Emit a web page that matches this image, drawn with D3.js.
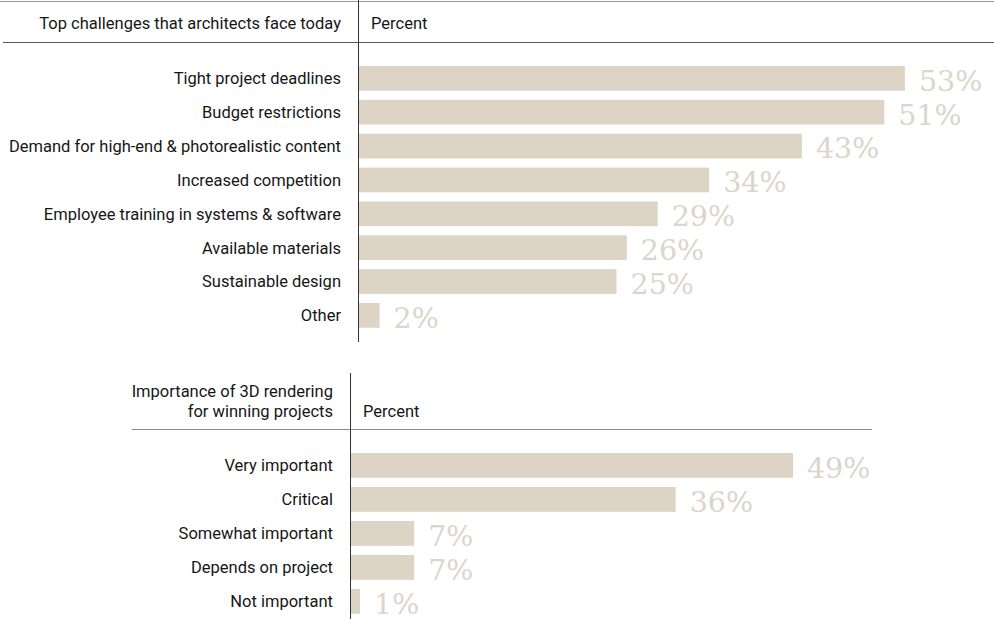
<!DOCTYPE html>
<html>
<head>
<meta charset="utf-8">
<script src="https://cdn.jsdelivr.net/npm/d3@7"></script>
<style>
  html, body { margin: 0; padding: 0; background: #fff; }
  svg { display: block; }
  .cat { font-family: Roboto, "Noto Sans", sans-serif; font-size: 16.5px; fill: #161616; }
  .head { font-family: Roboto, "Noto Sans", sans-serif; font-size: 16.5px; fill: #161616; }
  .val { font-family: "Roboto Slab", "DejaVu Serif", serif; font-size: 28.5px; fill: #dbd5cb; }
</style>
</head>
<body>
<svg id="chart" width="994" height="619"></svg>
<script>
// Survey results: top challenges for architects
const challengeCategories = [
  "Tight project deadlines",
  "Budget restrictions",
  "Demand for high-end & photorealistic content",
  "Increased competition",
  "Employee training in systems & software",
  "Available materials",
  "Sustainable design",
  "Other"
];
const challengeValues = [53, 51, 43, 34, 29, 26, 25, 2];

// Survey results: importance of 3D rendering
const renderingCategories = [
  "Very important",
  "Critical",
  "Somewhat important",
  "Depends on project",
  "Not important"
];
const renderingValues = [49, 36, 7, 7, 1];

const headerTop = ["Top challenges that architects face today"];
const headerBottom = ["Importance of 3D rendering", "for winning projects"];
const valueHeader = "Percent";

const barColor = "#ddd4c6";
const svg = d3.select("#chart");

function panel(cfg) {
  const g = svg.append("g");
  const n = cfg.categories.length;
  const pad = 0.27;
  const x = d3.scaleLinear().domain([0, 100]).range([cfg.x0, cfg.x0 + cfg.pxPer100]);
  const y = d3.scaleBand()
    .domain(cfg.categories)
    .range([cfg.y0, cfg.y0 + cfg.step * (n - pad)])
    .paddingInner(pad)
    .paddingOuter(0);

  const rows = cfg.categories.map((c, i) => ({ c, v: cfg.values[i] }));

  g.selectAll("rect.bar").data(rows).join("rect")
    .attr("class", "bar")
    .attr("x", x(0))
    .attr("y", d => y(d.c))
    .attr("width", d => x(d.v) - x(0))
    .attr("height", y.bandwidth())
    .attr("fill", barColor);

  g.selectAll("text.cat").data(rows).join("text")
    .attr("class", "cat")
    .attr("x", cfg.labelX)
    .attr("y", d => y(d.c) + y.bandwidth() / 2)
    .attr("dy", "0.36em")
    .attr("text-anchor", "end")
    .text(d => d.c);

  g.selectAll("text.val").data(rows).join("text")
    .attr("class", "val")
    .attr("x", d => x(d.v) + 14)
    .attr("y", d => y(d.c) + y.bandwidth())
    .text(d => d.v + "%");

  return { x, y };
}

// ---- upper panel frame ----
svg.append("line").attr("x1", 0).attr("x2", 994).attr("y1", 1.5).attr("y2", 1.5)
  .attr("stroke", "#9a9a9a").attr("stroke-width", 1);
svg.append("line").attr("x1", 3).attr("x2", 994).attr("y1", 42.5).attr("y2", 42.5)
  .attr("stroke", "#555").attr("stroke-width", 1);
svg.append("line").attr("x1", 358.5).attr("x2", 358.5).attr("y1", 0).attr("y2", 342)
  .attr("stroke", "#333").attr("stroke-width", 1);
svg.append("text").attr("class", "head").attr("x", 341).attr("y", 29)
  .attr("text-anchor", "end").text(headerTop[0]);
svg.append("text").attr("class", "head").attr("x", 371).attr("y", 29).text(valueHeader);

panel({
  categories: challengeCategories,
  values: challengeValues,
  x0: 359,
  pxPer100: 1030,
  y0: 66,
  step: 33.86,
  labelX: 341
});

// ---- lower panel frame ----
svg.append("line").attr("x1", 132).attr("x2", 872).attr("y1", 429.5).attr("y2", 429.5)
  .attr("stroke", "#8a8a8a").attr("stroke-width", 1);
svg.append("line").attr("x1", 350.5).attr("x2", 350.5).attr("y1", 373).attr("y2", 619)
  .attr("stroke", "#333").attr("stroke-width", 1);
svg.append("text").attr("class", "head").attr("x", 333).attr("y", 397)
  .attr("text-anchor", "end").text(headerBottom[0]);
svg.append("text").attr("class", "head").attr("x", 333).attr("y", 417)
  .attr("text-anchor", "end").text(headerBottom[1]);
svg.append("text").attr("class", "head").attr("x", 363).attr("y", 417).text(valueHeader);

panel({
  categories: renderingCategories,
  values: renderingValues,
  x0: 351,
  pxPer100: 902,
  y0: 453,
  step: 34,
  labelX: 333
});
</script>
</body>
</html>
